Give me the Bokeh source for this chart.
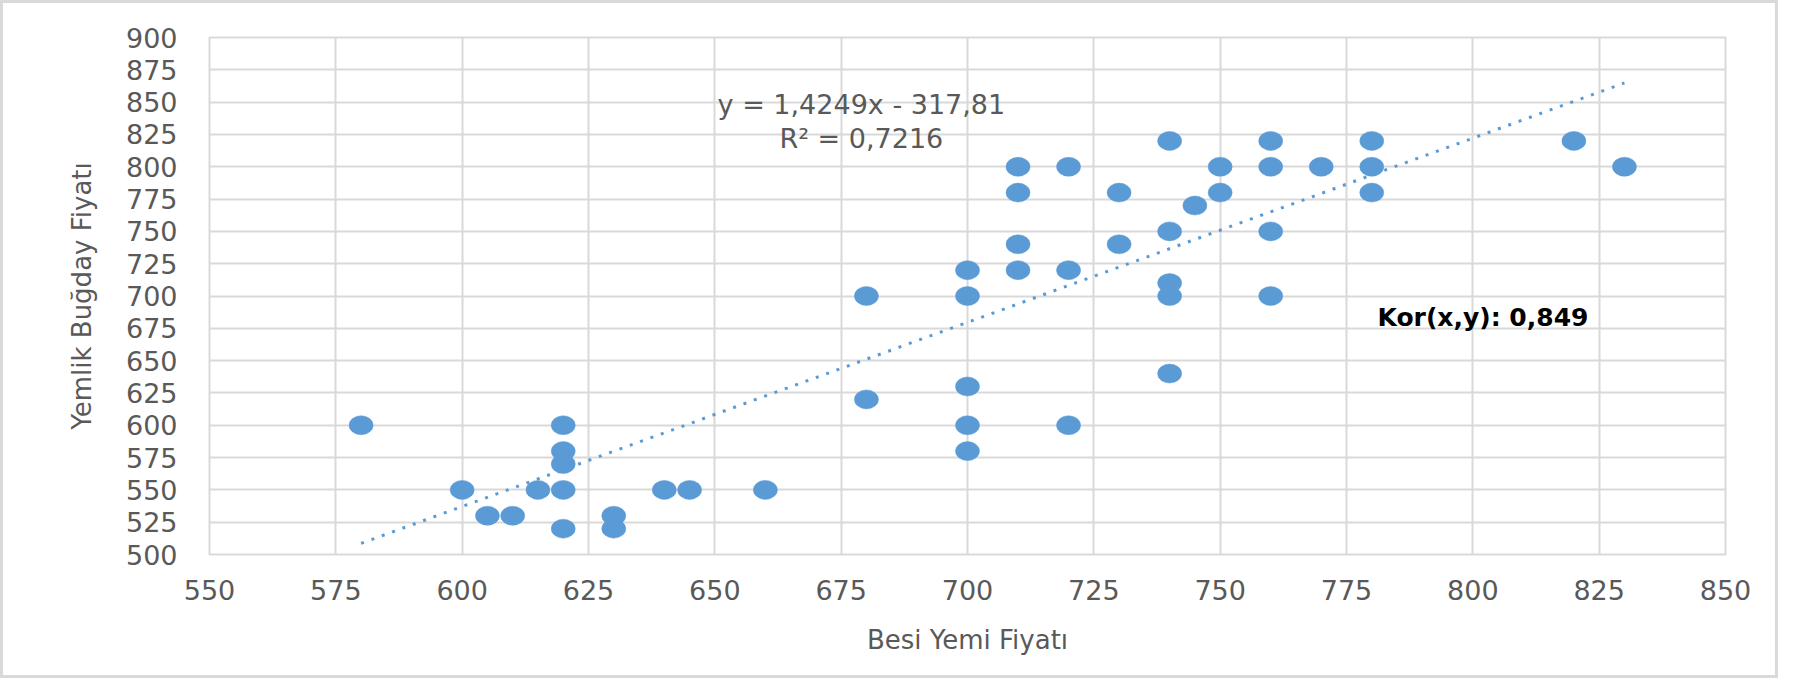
from bokeh.plotting import figure
from bokeh.models import ColumnDataSource, Range1d, FixedTicker, Label
from bokeh.embed import file_html
from bokeh.resources import INLINE

# Veriler
besi_yemi = [580, 600, 605, 610, 615, 620, 620, 620, 620, 620,
             630, 630, 640, 645, 660, 680, 680, 700, 700, 700,
             700, 700, 710, 710, 710, 710, 720, 720, 720, 730,
             730, 740, 740, 740, 740, 740, 745, 750, 750, 760,
             760, 760, 760, 770, 780, 780, 780, 820, 830]
yemlik_bugday = [600, 550, 530, 530, 550, 600, 580, 570, 550, 520,
                 530, 520, 550, 550, 550, 700, 620, 720, 700, 630,
                 600, 580, 800, 780, 740, 720, 800, 720, 600, 780,
                 740, 820, 750, 710, 700, 640, 770, 800, 780, 820,
                 800, 750, 700, 800, 820, 800, 780, 820, 800]

x_ticks = [550, 575, 600, 625, 650, 675, 700, 725, 750, 775, 800, 825, 850]
y_ticks = [500, 525, 550, 575, 600, 625, 650, 675, 700, 725, 750, 775,
           800, 825, 850, 875, 900]

# Dogrusal egilim cizgisi (Excel trendline)
trend_slope = 1.4249
trend_intercept = -317.81
trend_x = [min(besi_yemi), max(besi_yemi)]
trend_y = [trend_slope * v + trend_intercept for v in trend_x]

eq_text = "y = 1,4249x - 317,81"
r2_text = "R² = 0,7216"
kor_text = "Kor(x,y): 0,849"

FONT = "DejaVu Sans"
GRAY = "#595959"
GRID = "#d9d9d9"
BLUE = "#5b9bd5"

p = figure(width=1778, height=678,
           x_range=Range1d(550, 850), y_range=Range1d(500, 900),
           x_axis_label="Besi Yemi Fiyatı", y_axis_label="Yemlik Buğday Fiyatı",
           output_backend="svg", toolbar_location=None,
           min_border_left=206, min_border_right=56,
           min_border_top=34, min_border_bottom=127,
           background_fill_color="white", border_fill_color="white")
p.styles = {"border": "3px solid #d9d9d9"}

p.outline_line_color = GRID
p.outline_line_width = 2

# Izgaralar
p.xaxis.ticker = FixedTicker(ticks=x_ticks)
p.yaxis.ticker = FixedTicker(ticks=y_ticks)
p.grid.grid_line_color = GRID
p.grid.grid_line_width = 2

# Eksenler
for ax in (p.xaxis, p.yaxis):
    ax.axis_line_color = None
    ax.major_tick_line_color = None
    ax.minor_tick_line_color = None
    ax.major_tick_out = 0
    ax.minor_tick_out = 0
    ax.major_label_text_font = FONT
    ax.major_label_text_font_size = "27px"
    ax.major_label_text_color = GRAY
    ax.axis_label_text_font = FONT
    ax.axis_label_text_font_size = "26px"
    ax.axis_label_text_font_style = "normal"
    ax.axis_label_text_color = GRAY

p.yaxis.major_label_standoff = 32
p.yaxis.axis_label_standoff = 26
p.xaxis.major_label_standoff = 25
p.xaxis.axis_label_standoff = 22

# Egilim cizgisi (noktali)
p.line(trend_x, trend_y, line_color=BLUE, line_width=3, line_dash="3 8")

# Noktalar
src = ColumnDataSource(data=dict(x=besi_yemi, y=yemlik_bugday))
p.ellipse(x="x", y="y", width=24, height=19, width_units="screen",
          height_units="screen", source=src, fill_color=BLUE,
          line_color=BLUE, line_width=0.5)

# Metinler
p.add_layout(Label(x=679, y=848, text=eq_text, text_align="center",
                   text_baseline="middle", text_font=FONT,
                   text_font_size="27px", text_color=GRAY))
p.add_layout(Label(x=679, y=822, text=r2_text, text_align="center",
                   text_baseline="middle", text_font=FONT,
                   text_font_size="27px", text_color=GRAY))
p.add_layout(Label(x=802, y=683, text=kor_text, text_align="center",
                   text_baseline="middle", text_font=FONT,
                   text_font_size="25px", text_font_style="bold",
                   text_color="black"))

open("out.html", "w").write(file_html(p, INLINE))
